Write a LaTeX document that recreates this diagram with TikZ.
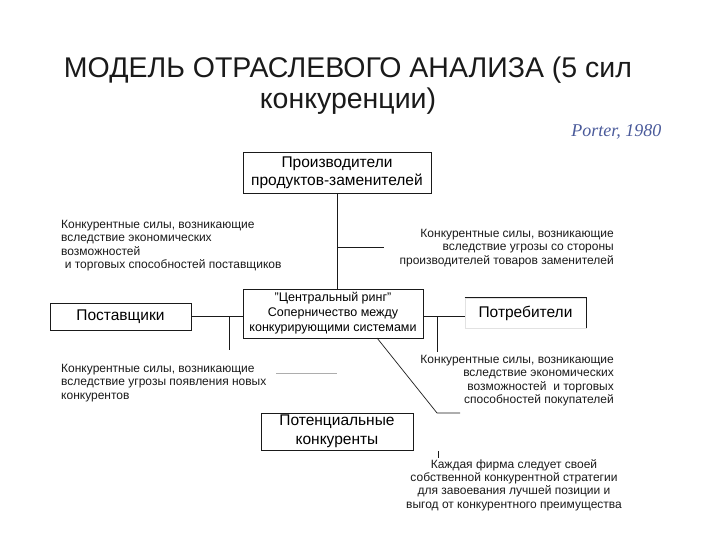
\documentclass[tikz,border=0pt]{standalone}
\usepackage{fontspec}
\setmainfont{Liberation Sans}
\newfontfamily\refserif{Liberation Serif}
\usepackage{xcolor}
\usetikzlibrary{positioning,calc}
\definecolor{ink}{HTML}{1A1A1A}
\definecolor{inkgray}{HTML}{8A8A8A}
\definecolor{refblue}{HTML}{4A5A9A}
\tikzset{
  forcebox/.style={draw=ink,fill=white,line width=0.9pt,align=center,
                   inner sep=0pt,font=\fontsize{15.5}{18}\selectfont},
  ringbox/.style={draw=ink,fill=white,line width=0.9pt,align=center,
                  inner sep=0pt,font=\fontsize{12.5}{15}\selectfont},
  note/.style={inner sep=0pt,font=\fontsize{12}{13.3}\selectfont,text=ink},
  link/.style={draw=ink,line width=0.7pt},
  faintlink/.style={draw=inkgray!70,line width=0.7pt}
}
\begin{document}
\begin{tikzpicture}[x=1pt,y=-1pt]
    \path[use as bounding box] (0,0) rectangle (720,540);
    % title
    \node[align=center,font=\fontsize{28.5}{31}\selectfont,text=ink] (title) at (348,86)
      {МОДЕЛЬ ОТРАСЛЕВОГО АНАЛИЗА (5 сил\\конкуренции)};
    \node[font=\refserif\itshape\fontsize{18}{20}\selectfont,text=refblue,anchor=east] (porter) at (665,132)
      {Porter, 1980};
    % the five boxes
    \node[forcebox,minimum width=188,minimum height=41] (subst) at (337,172.5)
      {Производители\\продуктов-заменителей};
    \node[ringbox,minimum width=180,minimum height=49] (rival) at (333,313.5)
      {"Центральный ринг"\\Соперничество между\\конкурирующими системами};
    \node[forcebox,minimum width=141,minimum height=27] (supp) at (120.5,316.5)
      {Поставщики};
    \node[forcebox,draw=inkgray!25,minimum width=121,minimum height=30] (buyer) at (525.5,313)
      {Потребители};
    \draw[ink,line width=0.9pt] (buyer.north west) -- (buyer.north east) -- (buyer.south east);
    \node[forcebox,font=\fontsize{15.5}{19}\selectfont,minimum width=152,minimum height=37] (newcomer) at (337,431.5)
      {Потенциальные\\конкуренты};
    % notes
    \node[note,anchor=north west,align=left] (suppnote) at (61,220)
      {Конкурентные силы, возникающие\\вследствие экономических\\возможностей\\\hspace{0.3em}и торговых способностей поставщиков};
    \node[note,anchor=north east,align=right] (substnote) at (614,229)
      {Конкурентные силы, возникающие\\вследствие угрозы со стороны\\производителей товаров заменителей};
    \node[note,anchor=north west,align=left] (newnote) at (61,364)
      {Конкурентные силы, возникающие\\вследствие угрозы появления новых\\конкурентов};
    \node[note,anchor=north east,align=right] (buyernote) at (614,355)
      {Конкурентные силы, возникающие\\вследствие экономических\\возможностей\ \ и торговых\\способностей покупателей};
    \node[note,anchor=north,align=center] (firmnote) at (514,459)
      {Каждая фирма следует своей\\собственной конкурентной стратегии\\для завоевания лучшей позиции и\\выгод от конкурентного преимущества};
    % connectors
    \coordinate (substtap) at (337,247);
    \coordinate (substend) at (384,247);
    \coordinate (supptap) at (229,316);
    \coordinate (suppend) at (229,350);
    \coordinate (buyertap) at (437,316);
    \coordinate (buyerend) at (437,352);
    \coordinate (ringfoot) at (377,338);
    \coordinate (bend) at (437,413);
    \coordinate (bendend) at (460,413);
    \draw[link] (subst.south) -- (subst.south |- rival.north);
    \draw[link] (substtap) -- (substend);
    \draw[link] (supp.east |- supptap) -- (rival.west |- supptap);
    \draw[link] (supptap) -- (suppend);
    \draw[link] (rival.east |- buyertap) -- (buyer.west |- buyertap);
    \draw[link] (buyertap) -- (buyerend);
    \draw[link] (ringfoot) -- (bend) -- (bendend);
    \draw[faintlink] (276,373) -- (337,373);
    \draw[link] (438,451) -- (438,458);
  \end{tikzpicture}
\end{document}
